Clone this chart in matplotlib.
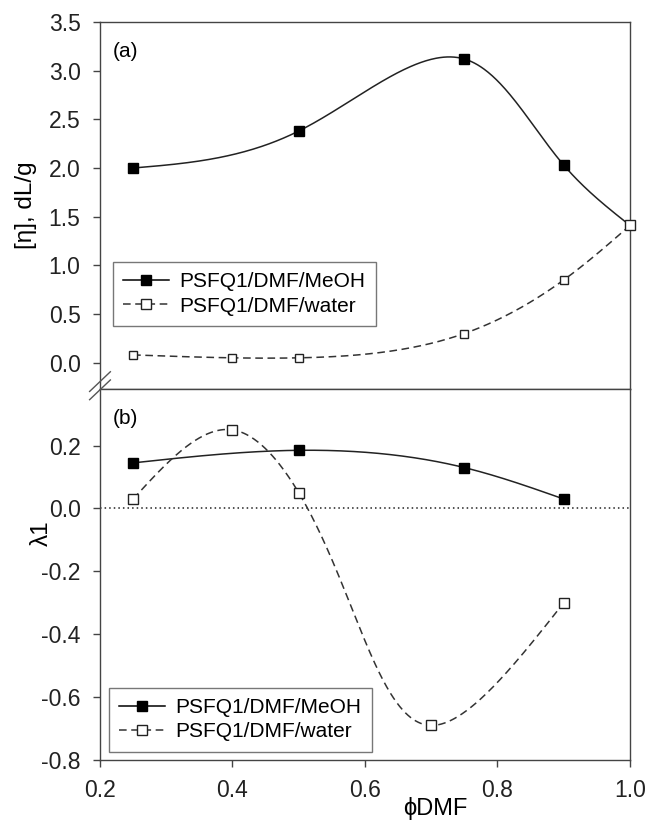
import numpy as np
import matplotlib
matplotlib.use("Agg")
import matplotlib.pyplot as plt

plt.rcParams['font.family'] = ['Liberation Sans', 'DejaVu Sans']

# panel (a): intrinsic viscosity
phi_meoh_a = [0.25, 0.5, 0.75, 0.9, 1.0]
eta_meoh = [2.0, 2.38, 3.12, 2.03, 1.41]
phi_water_a = [0.25, 0.4, 0.5, 0.75, 0.9, 1.0]
eta_water = [0.08, 0.05, 0.05, 0.30, 0.85, 1.41]

# panel (b): lambda1
phi_meoh_b = [0.25, 0.5, 0.75, 0.9]
lam_meoh = [0.145, 0.185, 0.13, 0.03]
phi_water_b = [0.25, 0.4, 0.5, 0.7, 0.9]
lam_water = [0.03, 0.25, 0.05, -0.69, -0.30]

labels = ['PSFQ1/DMF/MeOH', 'PSFQ1/DMF/water']


def natural(t, y, ts):
    # natural cubic spline of y(t), evaluated at ts
    t = np.asarray(t, float)
    y = np.asarray(y, float)
    m = len(t)
    h = np.diff(t)
    A = np.zeros((m, m))
    r = np.zeros(m)
    A[0, 0] = A[-1, -1] = 1
    for i in range(1, m - 1):
        A[i, i - 1] = h[i - 1]
        A[i, i] = 2 * (h[i - 1] + h[i])
        A[i, i + 1] = h[i]
        r[i] = 6 * ((y[i + 1] - y[i]) / h[i] - (y[i] - y[i - 1]) / h[i - 1])
    M = np.linalg.solve(A, r)
    k = np.clip(np.searchsorted(t, ts) - 1, 0, m - 2)
    t0 = t[k + 1] - ts
    t1 = ts - t[k]
    hk = h[k]
    return (M[k] * t0**3 + M[k + 1] * t1**3) / (6 * hk) \
        + (y[k] / hk - M[k] * hk / 6) * t0 + (y[k + 1] / hk - M[k + 1] * hk / 6) * t1


def smooth(ax, x, y, n=400):
    # parametric spline in screen space (like the plotting package's spline curve)
    (x0, x1), (y0, y1) = ax.get_xlim(), ax.get_ylim()
    W, H = ax.bbox.width, ax.bbox.height
    u = (np.asarray(x, float) - x0) / (x1 - x0) * W
    v = (np.asarray(y, float) - y0) / (y1 - y0) * H
    t = np.concatenate([[0], np.cumsum(np.hypot(np.diff(u), np.diff(v)))])
    ts = np.linspace(0, t[-1], n)
    us, vs = natural(t, u, ts), natural(t, v, ts)
    return x0 + us / W * (x1 - x0), y0 + vs / H * (y1 - y0)


fig = plt.figure(figsize=(6.48, 8.21), dpi=100)
ax1 = fig.add_axes([0.1543, 0.5262, 0.8179, 0.4470])
ax2 = fig.add_axes([0.1543, 0.0743, 0.8179, 0.4519])

line_c = '#222222'
fs = 15
tfs = 16.5

ax1.set_xlim(0.2, 1.0)
ax1.set_ylim(-0.27, 3.5)
ax2.set_xlim(0.2, 1.0)
ax2.set_ylim(-0.8, 0.38)

leg_kw = dict(fontsize=fs, frameon=True, fancybox=False, edgecolor='#555555',
              handlelength=2.2, borderpad=0.5, labelspacing=0.25, handletextpad=0.5,
              borderaxespad=0)

# --- top panel
xs, ys = smooth(ax1, phi_meoh_a, eta_meoh)
ax1.plot(xs, ys, '-', color=line_c, lw=1.1)
ax1.plot(phi_meoh_a[:-1], eta_meoh[:-1], 's', color='black', ms=6.5, zorder=4)
xs, ys = smooth(ax1, phi_water_a, eta_water)
ax1.plot(xs, ys, '--', color='#333333', lw=1.1, dashes=(5, 3))
ax1.plot(phi_water_a[:-1], eta_water[:-1], 's', mfc='white', mec='#222222', ms=5.5, mew=1, zorder=4)
ax1.plot(phi_water_a[-1:], eta_water[-1:], 's', mfc='white', mec='#222222', ms=7, mew=1, zorder=5, clip_on=False)
h1 = ax1.plot([], [], '-s', color='black', mfc='black', ms=6.5, lw=1.1)[0]
h2 = ax1.plot([], [], '--s', color='#333333', mfc='white', mec='#222222', ms=6.5, lw=1.1, dashes=(5, 3))[0]
ax1.legend([h1, h2], labels, loc='upper left', bbox_to_anchor=(0.0245, 0.346), **leg_kw)

ax1.set_yticks(np.arange(0, 3.51, 0.5))
ax1.set_yticklabels([f'{v:.1f}' for v in np.arange(0, 3.51, 0.5)])
ax1.set_xticks([])
ax1.set_ylabel('[η], dL/g', fontsize=17.5)
ax1.yaxis.set_label_coords(-0.119, 0.5)
ax1.text(0.025, 0.945, '(a)', transform=ax1.transAxes, fontsize=fs, va='top', ha='left')

# --- bottom panel
ax2.axhline(0, color='#222222', lw=1.1, ls=(0, (1, 2)))
xs, ys = smooth(ax2, phi_meoh_b, lam_meoh)
ax2.plot(xs, ys, '-', color=line_c, lw=1.1)
ax2.plot(phi_meoh_b, lam_meoh, 's', color='black', ms=6.5, zorder=4)
xs, ys = smooth(ax2, phi_water_b, lam_water)
ax2.plot(xs, ys, '--', color='#333333', lw=1.1, dashes=(5, 3))
ax2.plot(phi_water_b, lam_water, 's', mfc='white', mec='#222222', ms=6.5, mew=1, zorder=4)
ax2.legend([h1, h2], labels, loc='lower left', bbox_to_anchor=(0.017, 0.022), **leg_kw)

ax2.set_yticks(np.arange(-0.8, 0.21, 0.2))
ax2.set_yticklabels([f'{v:.1f}' if abs(v) > 1e-9 else '0.0' for v in np.arange(-0.8, 0.21, 0.2)])
ax2.set_xticks(np.arange(0.2, 1.01, 0.2))
ax2.set_xticklabels([f'{v:.1f}' for v in np.arange(0.2, 1.01, 0.2)])
ax2.set_ylabel('λ1', fontsize=17.5)
ax2.yaxis.set_label_coords(-0.089, 0.61)
ax2.text(0.025, 0.945, '(b)', transform=ax2.transAxes, fontsize=fs, va='top', ha='left')
fig.text(0.672, 0.001, 'ϕDMF', fontsize=17, ha='center', va='bottom')

for ax in (ax1, ax2):
    for s in ax.spines.values():
        s.set_color('#444444')
        s.set_linewidth(1.0)
    ax.tick_params(direction='out', length=5, width=1, color='#444444', labelsize=tfs,
                   labelcolor='#222222', top=False, right=False)
    ax.tick_params(axis='y', pad=9)
    ax.tick_params(axis='x', pad=9)

# axis break marks on the left spine
bx = 0.1543
by = 0.5262 + 0.004
for dy in (-0.005, 0.005):
    fig.add_artist(plt.Line2D([bx - 0.016, bx + 0.016], [by + dy - 0.012, by + dy + 0.012],
                              color='#555555', lw=1.0))

fig.savefig('out.png', dpi=100)
